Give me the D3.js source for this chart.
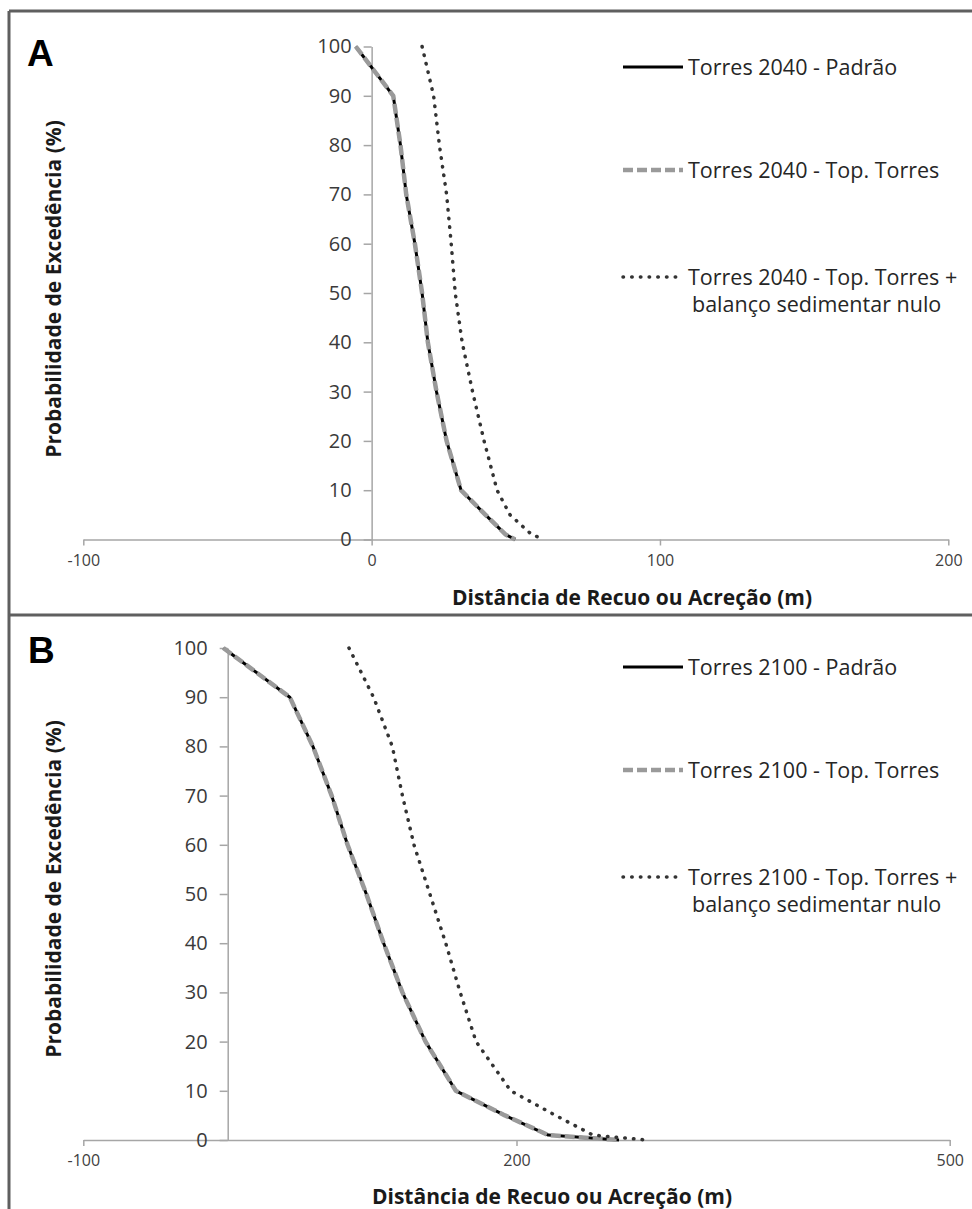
<!DOCTYPE html>
<html>
<head>
<meta charset="utf-8">
<script src="https://cdnjs.cloudflare.com/ajax/libs/d3/7.8.5/d3.min.js"></script>
<style>
  body { margin: 0; background: #fff; }
  svg { display: block; }
  .tick line, .domain { stroke: #a6a6a6; stroke-width: 1.5; }
</style>
</head>
<body>
<div id="chart"></div>
<script>
const SVG_WIDTH = 972;
const SVG_HEIGHT = 1209;
const FONT = "'Open Sans', 'Noto Sans', sans-serif";

// probabilidade de excedência (%) - comum a todas as séries
const probs = [100, 90, 80, 70, 60, 50, 40, 30, 20, 10, 5, 1, 0];

// painel A - 2040 (distância em m)
const padrao2040    = [-5.5, 7.5, 10, 12, 15, 17.5, 19.5, 22.5, 26, 31, 39.5, 46.5, 49.8];
const topTorres2040 = [-5.5, 7.5, 10, 12, 15, 17.5, 19.5, 22.5, 26, 31, 39.5, 46.5, 49.8];
const nulo2040      = [17.5, 21.5, 23.5, 26, 27.6, 29, 31.4, 35, 39, 43.5, 48, 55.5, 60];

// painel B - 2100
const padrao2100    = [-3, 43, 59, 72, 83, 96, 108, 121, 137, 158, 192, 222, 271];
const topTorres2100 = [-3, 43, 59, 72, 83, 96, 108, 121, 137, 158, 192, 222, 271];
const nulo2100      = [84, 101, 114, 121, 129, 140, 151, 161, 172, 196, 227, 253, 290];

const xTicksA = [-100, 0, 100, 200];
const xTicksB = [-100, 200, 500];
const yTicks = [0, 10, 20, 30, 40, 50, 60, 70, 80, 90, 100];

const legendA = ["Torres 2040 - Padrão", "Torres 2040 - Top. Torres", ["Torres 2040 - Top. Torres +", "balanço sedimentar nulo"]];
const legendB = ["Torres 2100 - Padrão", "Torres 2100 - Top. Torres", ["Torres 2100 - Top. Torres +", "balanço sedimentar nulo"]];

const xTitle = "Distância de Recuo ou Acreção (m)";
const yTitle = "Probabilidade de Excedência (%)";

// estilos das 3 séries
const STYLES = [
  { stroke: "#000", width: 3, dash: null, cap: "butt" },
  { stroke: "#9a9a9a", width: 4.5, dash: "10,4", cap: "butt" },
  { stroke: "#333", width: 3.5, dash: "0.5,8.2", cap: "round" }
];

var svg = d3.select("#chart").append("svg")
  .attr("width", SVG_WIDTH)
  .attr("height", SVG_HEIGHT);

// moldura
var frame = svg.append("g").attr("stroke", "#5f5f5f").attr("stroke-width", 3);
frame.append("line").attr("x1", 9).attr("x2", SVG_WIDTH).attr("y1", 11).attr("y2", 11);
frame.append("line").attr("x1", 9).attr("x2", 9).attr("y1", 11).attr("y2", SVG_HEIGHT);
frame.append("line").attr("x1", 9).attr("x2", SVG_WIDTH).attr("y1", 615).attr("y2", 615);

drawPanel({
  label: "A", labelX: 27, labelY: 66,
  xDomain: [-100, 200], xRange: [83.3, 948.3], xTicks: xTicksA,
  yRange: [539.5, 46.5],
  series: [padrao2040, topTorres2040, nulo2040],
  legend: legendA, legendY: [67, 170, 277],
  xTitleX: 632, xTitleY: 605, yTitleX: 54, yTitleMid: 289
});

drawPanel({
  label: "B", labelX: 28, labelY: 663,
  xDomain: [-100, 500], xRange: [83.3, 949.7], xTicks: xTicksB,
  yRange: [1140, 648],
  series: [padrao2100, topTorres2100, nulo2100],
  legend: legendB, legendY: [667, 770, 877],
  xTitleX: 552, xTitleY: 1204, yTitleX: 54, yTitleMid: 889
});

function drawPanel(cfg) {
  const x = d3.scaleLinear().domain(cfg.xDomain).range(cfg.xRange);
  const y = d3.scaleLinear().domain([0, 100]).range(cfg.yRange);
  const g = svg.append("g");

  // eixo x
  g.append("g")
    .attr("transform", `translate(0,${y(0)})`)
    .call(d3.axisBottom(x).tickValues(cfg.xTicks).tickFormat(d => String(d))
      .tickSize(6).tickSizeOuter(0).tickPadding(9))
    .call(a => a.selectAll("text")
      .style("font-family", FONT).style("font-size", "16px").attr("fill", "#404040"));

  // eixo y
  g.append("g")
    .attr("transform", `translate(${x(0)},0)`)
    .call(d3.axisLeft(y).tickValues(yTicks).tickSize(8).tickSizeOuter(0).tickPadding(12))
    .call(a => a.selectAll("text")
      .style("font-family", FONT).style("font-size", "20px").attr("fill", "#3a3a3a"));

  // linhas
  const line = d3.line()
    .x((d, i) => x(d))
    .y((d, i) => y(probs[i]));

  cfg.series.forEach((s, k) => {
    const st = STYLES[k];
    g.append("path")
      .datum(s)
      .attr("d", line)
      .attr("fill", "none")
      .attr("stroke", st.stroke)
      .attr("stroke-width", st.width)
      .attr("stroke-dasharray", st.dash)
      .attr("stroke-linecap", st.cap)
      .attr("stroke-linejoin", "round");
  });

  // legenda
  const lg = g.append("g");
  cfg.legend.forEach((txt, k) => {
    const st = STYLES[k];
    const ly = cfg.legendY[k];
    lg.append("line")
      .attr("x1", 623).attr("x2", 683).attr("y1", ly).attr("y2", ly)
      .attr("stroke", st.stroke).attr("stroke-width", st.width)
      .attr("stroke-dasharray", st.dash).attr("stroke-linecap", st.cap);
    const lines = Array.isArray(txt) ? txt : [txt];
    const t = lg.append("text")
      .attr("y", ly + 8)
      .style("font-family", FONT).style("font-size", "21.5px").attr("fill", "#262626");
    lines.forEach((l, j) => {
      t.append("tspan").attr("x", j === 0 ? 688 : 692).attr("dy", j === 0 ? 0 : 27).text(l);
    });
  });

  // títulos
  g.append("text")
    .attr("x", cfg.xTitleX).attr("y", cfg.xTitleY)
    .attr("text-anchor", "middle")
    .style("font-family", FONT).style("font-size", "21px").style("font-weight", "bold")
    .attr("fill", "#1a1a1a")
    .text(xTitle);

  g.append("text")
    .attr("transform", `translate(${cfg.yTitleX + 7},${cfg.yTitleMid}) rotate(-90)`)
    .attr("text-anchor", "middle")
    .style("font-family", FONT).style("font-size", "21px").style("font-weight", "bold")
    .attr("fill", "#1a1a1a")
    .text(yTitle);

  // letra do painel
  g.append("text")
    .attr("x", cfg.labelX).attr("y", cfg.labelY)
    .style("font-family", "'Liberation Sans', Arial, sans-serif")
    .style("font-size", "37px").style("font-weight", "bold")
    .attr("fill", "#000")
    .text(cfg.label);
}
</script>
</body>
</html>
